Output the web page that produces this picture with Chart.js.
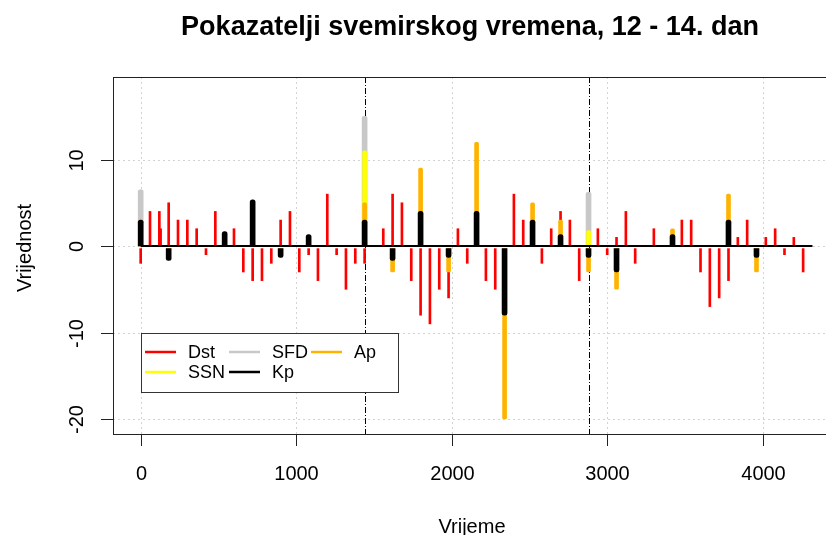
<!DOCTYPE html>
<html>
<head>
<meta charset="utf-8">
<title>Pokazatelji svemirskog vremena</title>
<script src="https://cdn.jsdelivr.net/npm/chart.js@4.4.1/dist/chart.umd.min.js"></script>
<style>
  html, body { margin: 0; padding: 0; background: #fff; overflow: hidden; }
  canvas { display: block; }
</style>
</head>
<body>
<canvas id="chart" width="826" height="535"></canvas>
<script>
// Dst, one value per hour (hour 0 .. 71), 0 = nothing drawn
const dstHourly = [
  -2, 4, 4, 5, 3, 3, 2, -1, 4, 0,
  2, -3, -4, -4, -2, 3, 4, -3, -1, -4,
  6, -1, -5, -2, -2, 0, 2, 6, 5, -4,
  -8, -9, -5, -6, 2, -2, 0, -4, -5, 0,
  6, 3, 0, -2, 2, 4, 3, -4, 0, 2,
  -1, 1, 4, -2, 0, 2, 0, 0, 3, 3,
  -3, -7, -6, -4, 1, 3, 0, 1, 2, -1,
  1, -3
];
// one extra Dst reading just after hour 2
const dstExtraTimes = [128];
const dstExtraValues = [2];

// Kp and Ap, every 3 hours (minutes)
const kpTimes = [0, 180, 360, 540, 720, 900, 1080, 1260, 1440, 1620, 1800, 1980,
                 2160, 2340, 2520, 2700, 2880, 3060, 3240, 3420, 3600, 3780, 3960, 4140];
const kpValues = [3, -1.67, 0, 1.67, 5.33, -1.33, 1.33, 0, 3, -1.67, 4, -1.33,
                  4, -8, 3, 1.33, -1.33, -3, 0, 1.33, 0, 3, -1.33, 0];
const apValues = [3, -1.5, 0, 1.5, 5, -1.3, 1, 0, 5, -3, 9, -3,
                  12, -20, 5, 3, -3, -5, 0, 2, 0, 6, -3, 0];

// daily values
const dayTimes = [0, 1440, 2880];
const sfdValues = [6.5, 15, 6.2];
const ssnValues = [2.5, 11, 1.8];

const dayBreaks = [1440, 2880];
const xTicks = [0, 1000, 2000, 3000, 4000];
const yTicks = [-20, -10, 0, 10];
const legendOrder = ['Dst', 'SSN', 'SFD', 'Kp', 'Ap'];

const FONT = '"Liberation Sans", Arial, sans-serif';
const NEG_BASE = -0.3; // negative spikes start just under the zero line

function spikes(times, values) {
  const out = [];
  times.forEach((t, i) => {
    const v = values[i];
    if (v === 0 || v == null) return;
    out.push({ x: t, y: v > 0 ? [0, v] : [NEG_BASE, v] });
  });
  return out;
}

const dstTimes = dstHourly.map((_, h) => h * 60);

const datasets = [
  {
    label: 'Dst', color: '#ff0000', order: 5, barThickness: 2,
    data: spikes(dstTimes.concat(dstExtraTimes), dstHourly.concat(dstExtraValues))
  },
  { label: 'SFD', color: '#c8c8c8', order: 4, barThickness: 5, radius: 2, data: spikes(dayTimes, sfdValues) },
  { label: 'SSN', color: '#ffff00', order: 3, barThickness: 4, radius: 1.5, data: spikes(dayTimes, ssnValues) },
  { label: 'Ap', color: '#ffb300', order: 2, barThickness: 4, radius: 1.5, data: spikes(kpTimes, apValues) },
  { label: 'Kp', color: '#000000', order: 1, barThickness: 5, radius: 2.5, data: spikes(kpTimes, kpValues) }
].map(d => ({
  type: 'bar',
  label: d.label,
  data: d.data,
  order: d.order,
  backgroundColor: d.color,
  borderWidth: 0,
  barThickness: d.barThickness,
  grouped: false,
  borderRadius: {
    topLeft: d.radius || 0, topRight: d.radius || 0,
    bottomLeft: d.radius || 0, bottomRight: d.radius || 0
  }
}));

// zero line over the spikes
datasets.push({
  type: 'line',
  label: 'zero',
  data: [{ x: 0, y: 0 }, { x: 4320, y: 0 }],
  borderColor: '#000',
  borderWidth: 2,
  pointRadius: 0,
  order: 0
});

const rStyle = {
  id: 'rStyle',
  beforeDatasetsDraw(chart) {
    const { ctx, chartArea: a, scales: { x, y } } = chart;
    ctx.save();
    ctx.lineWidth = 1;
    ctx.strokeStyle = '#d3d3d3';
    ctx.setLineDash([2, 3]);
    ctx.beginPath();
    xTicks.forEach(v => {
      const px = Math.round(x.getPixelForValue(v)) + 0.5;
      ctx.moveTo(px, a.top);
      ctx.lineTo(px, a.bottom);
    });
    yTicks.forEach(v => {
      const py = Math.round(y.getPixelForValue(v)) + 0.5;
      ctx.moveTo(a.left, py);
      ctx.lineTo(a.right, py);
    });
    ctx.stroke();

    // day boundaries
    ctx.strokeStyle = '#000';
    ctx.setLineDash([6, 2, 1, 2]);
    ctx.beginPath();
    dayBreaks.forEach(v => {
      const px = Math.round(x.getPixelForValue(v)) + 0.5;
      ctx.moveTo(px, a.top);
      ctx.lineTo(px, a.bottom);
    });
    ctx.stroke();
    ctx.restore();
  },
  afterDraw(chart) {
    const { ctx, chartArea: a, scales: { x, y } } = chart;
    ctx.save();
    ctx.setLineDash([]);
    ctx.strokeStyle = '#222';
    ctx.lineWidth = 1;
    ctx.strokeRect(a.left + 0.5, a.top + 0.5, a.right - a.left + 5, a.bottom - a.top);

    ctx.fillStyle = '#000';
    ctx.font = '20px ' + FONT;
    ctx.textAlign = 'center';
    ctx.textBaseline = 'middle';

    ctx.beginPath();
    xTicks.forEach(v => {
      const px = Math.round(x.getPixelForValue(v)) + 0.5;
      ctx.moveTo(px, a.bottom);
      ctx.lineTo(px, a.bottom + 12);
      ctx.fillText(String(v), px, 474);
    });
    yTicks.forEach(v => {
      const py = Math.round(y.getPixelForValue(v)) + 0.5;
      ctx.moveTo(a.left, py);
      ctx.lineTo(a.left - 12, py);
      ctx.save();
      ctx.translate(77, py);
      ctx.rotate(-Math.PI / 2);
      ctx.fillText(String(v), 0, 0);
      ctx.restore();
    });
    ctx.stroke();

    // axis titles
    ctx.fillText('Vrijeme', 472, 527);
    ctx.save();
    ctx.translate(25, 248);
    ctx.rotate(-Math.PI / 2);
    ctx.fillText('Vrijednost', 0, 0);
    ctx.restore();

    // main title
    ctx.font = 'bold 27px ' + FONT;
    ctx.fillText('Pokazatelji svemirskog vremena, 12 - 14. dan', 470, 28);

    // legend, 3 columns filled column by column
    const box = { left: 141, top: 333, right: 398, bottom: 392 };
    ctx.fillStyle = '#fff';
    ctx.fillRect(box.left, box.top, box.right - box.left, box.bottom - box.top);
    ctx.strokeStyle = '#333';
    ctx.strokeRect(box.left + 0.5, box.top + 0.5, box.right - box.left, box.bottom - box.top);
    const colX = [145, 229, 311];
    const rowY = [352, 372];
    ctx.font = '18px ' + FONT;
    ctx.textAlign = 'left';
    legendOrder.forEach((name, i) => {
      const ds = chart.data.datasets.find(d => d.label === name);
      const cx = colX[Math.floor(i / 2)];
      const cy = rowY[i % 2];
      ctx.strokeStyle = ds.backgroundColor;
      ctx.lineWidth = 2.5;
      ctx.beginPath();
      ctx.moveTo(cx, cy);
      ctx.lineTo(cx + 31, cy);
      ctx.stroke();
      ctx.fillStyle = '#000';
      ctx.fillText(name, cx + 43, cy + 1);
    });
    ctx.restore();
  }
};

new Chart(document.getElementById('chart'), {
  type: 'bar',
  data: { datasets },
  options: {
    responsive: false,
    animation: false,
    layout: { padding: { left: 113, right: 0, top: 77, bottom: 101 } },
    scales: {
      x: { type: 'linear', min: -178, max: 4407, offset: false, display: false },
      y: { type: 'linear', min: -21.73, max: 19.54, display: false }
    },
    plugins: {
      legend: { display: false },
      tooltip: { enabled: false }
    }
  },
  plugins: [rStyle]
});
</script>
</body>
</html>
